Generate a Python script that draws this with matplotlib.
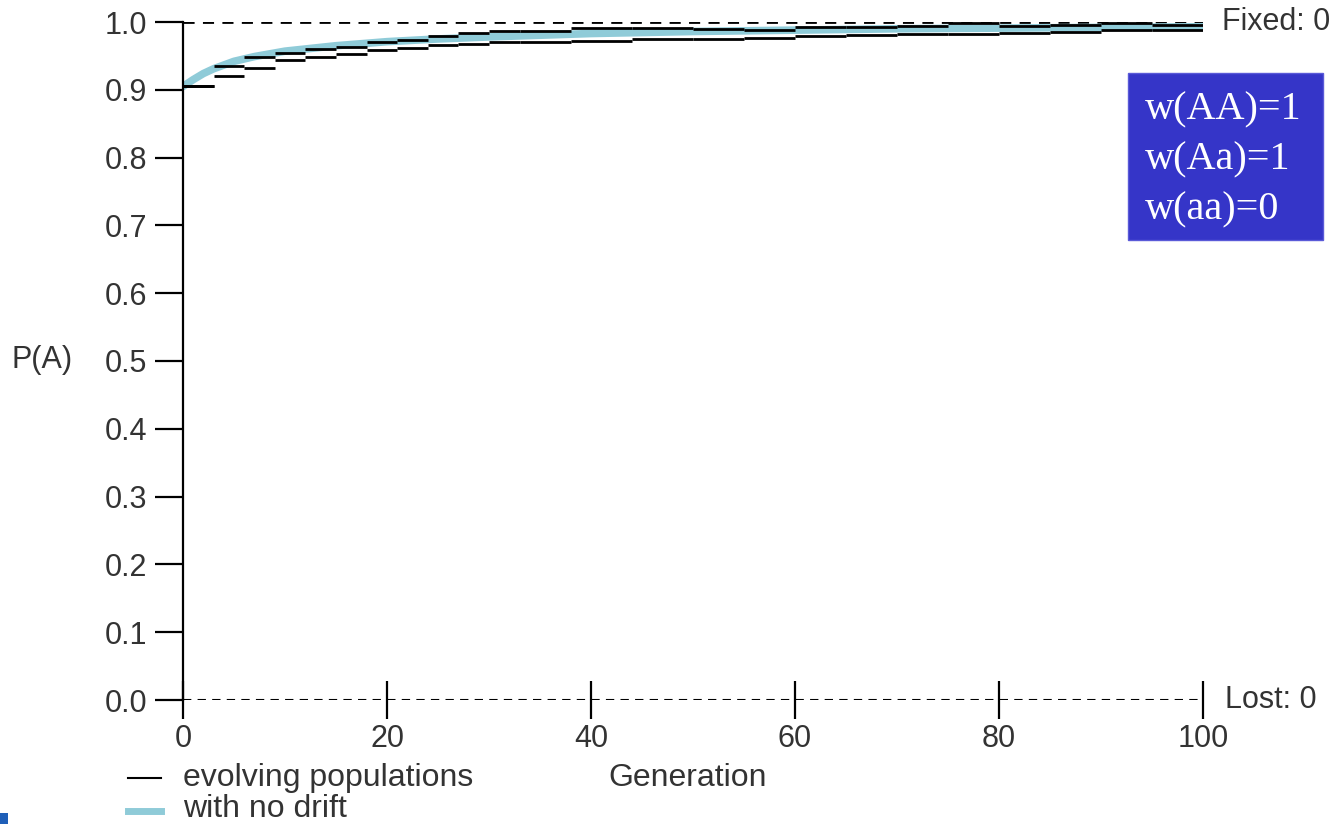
import numpy as np
import matplotlib
matplotlib.use('Agg')
import matplotlib.pyplot as plt
from matplotlib.patches import Rectangle
from matplotlib.lines import Line2D

# no-drift expectation
gen_nd = [0, 1, 2, 3, 5, 7, 10, 15, 20, 25, 30, 40, 50, 60, 70, 80, 90, 100]
p_nd = [0.905, 0.915, 0.924, 0.931, 0.942, 0.949, 0.957, 0.965, 0.971, 0.975, 0.978,
        0.983, 0.986, 0.988, 0.990, 0.991, 0.992, 0.993]

# evolving populations (stepped)
gen_d = [0, 3, 6, 9, 12, 15, 18, 21, 24, 27, 30, 33, 38, 44, 50, 55, 60, 65, 70, 75,
         80, 85, 90, 95, 100]
pop1 = [0.905, 0.935, 0.948, 0.955, 0.960, 0.963, 0.970, 0.973, 0.979, 0.984, 0.986,
        0.987, 0.991, 0.991, 0.990, 0.988, 0.992, 0.992, 0.994, 0.998, 0.994, 0.996,
        0.999, 0.995, 0.992]
pop2 = [0.905, 0.920, 0.932, 0.944, 0.948, 0.953, 0.958, 0.962, 0.966, 0.968, 0.970,
        0.970, 0.972, 0.975, 0.975, 0.977, 0.979, 0.981, 0.982, 0.983, 0.984, 0.985,
        0.988, 0.988, 0.988]

xticks = [0, 20, 40, 60, 80, 100]
yticks = [0.0, 0.1, 0.2, 0.3, 0.4, 0.5, 0.6, 0.7, 0.8, 0.9, 1.0]
fitness = ['w(AA)=1', 'w(Aa)=1', 'w(aa)=0']

W, H = 1341, 824
plt.rcParams['font.family'] = ['Liberation Sans', 'DejaVu Sans']
fig = plt.figure(figsize=(W / 100, H / 100), dpi=100)
ax = fig.add_axes([183 / W, 1 - 700 / H, (1203 - 183) / W, (700 - 22) / H])

blue = '#8fcbd8'
tc = '#333333'
ax.plot(gen_nd, p_nd, color=blue, lw=5.5, solid_capstyle='round', zorder=2)
# the old plot only shows the flat parts of each step
for pop in (pop1, pop2):
    ax.hlines(pop[:-1], gen_d[:-1], gen_d[1:], color='black', lw=2, zorder=3)

ax.axhline(1.0, color='black', lw=2, ls=(0, (4, 3)), zorder=1)
ax.axhline(0.0, color='black', lw=1.5, ls=(0, (4, 3)), zorder=1)

ax.set_xlim(0, 100)
ax.set_ylim(0, 1)
ax.set_xticks(xticks)
ax.set_xticklabels([str(t) for t in xticks])
ax.set_yticks(yticks)
ax.set_yticklabels(['%.1f' % t for t in yticks])
for s in ('top', 'right', 'bottom'):
    ax.spines[s].set_visible(False)
ax.spines['left'].set_linewidth(1.6)
ax.tick_params(axis='x', direction='inout', length=27, width=1.6, pad=4,
               labelsize=22, labelcolor=tc)
ax.tick_params(axis='y', direction='out', length=20, width=1.6, pad=6,
               labelsize=22, labelcolor=tc)
ax.patch.set_alpha(0)

fig.text(42 / W, 1 - 360 / H, 'P(A)', fontsize=22, color=tc, ha='center', va='center')
fig.text(688 / W, 1 - 778 / H, 'Generation', fontsize=23, color=tc, ha='center', va='center')
fig.text(1222 / W, 1 - 22 / H, 'Fixed: 0', fontsize=22, color=tc, ha='left', va='center')
fig.text(1225 / W, 1 - 700 / H, 'Lost: 0', fontsize=22, color=tc, ha='left', va='center')

# legend drawn by hand below the axis
fig.add_artist(Line2D([128 / W, 161 / W], [1 - 778 / H] * 2, color='black', lw=1.5))
fig.add_artist(Line2D([128 / W, 161 / W], [1 - 811 / H] * 2, color=blue, lw=5))
fig.text(183 / W, 1 - 778 / H, 'evolving populations', fontsize=23, color=tc, va='center')
fig.text(183 / W, 1 - 809 / H, 'with no drift', fontsize=23, color=tc, va='center')

# fitness box
fig.patches.append(Rectangle((1128 / W, 1 - 240 / H), 195 / W, 167 / H,
                             transform=fig.transFigure, facecolor='#3535c8',
                             edgecolor='#5a5ad8', lw=1))
for i, t in enumerate(fitness):
    fig.text(1145 / W, 1 - (110 + 50 * i) / H, t, fontsize=29, color='white',
             family='Liberation Serif', va='center')

fig.patches.append(Rectangle((0, 0), 8 / W, 11 / H, transform=fig.transFigure,
                             facecolor='#1f5fb8', edgecolor='none'))

fig.savefig('out.png', dpi=100, facecolor='white')
